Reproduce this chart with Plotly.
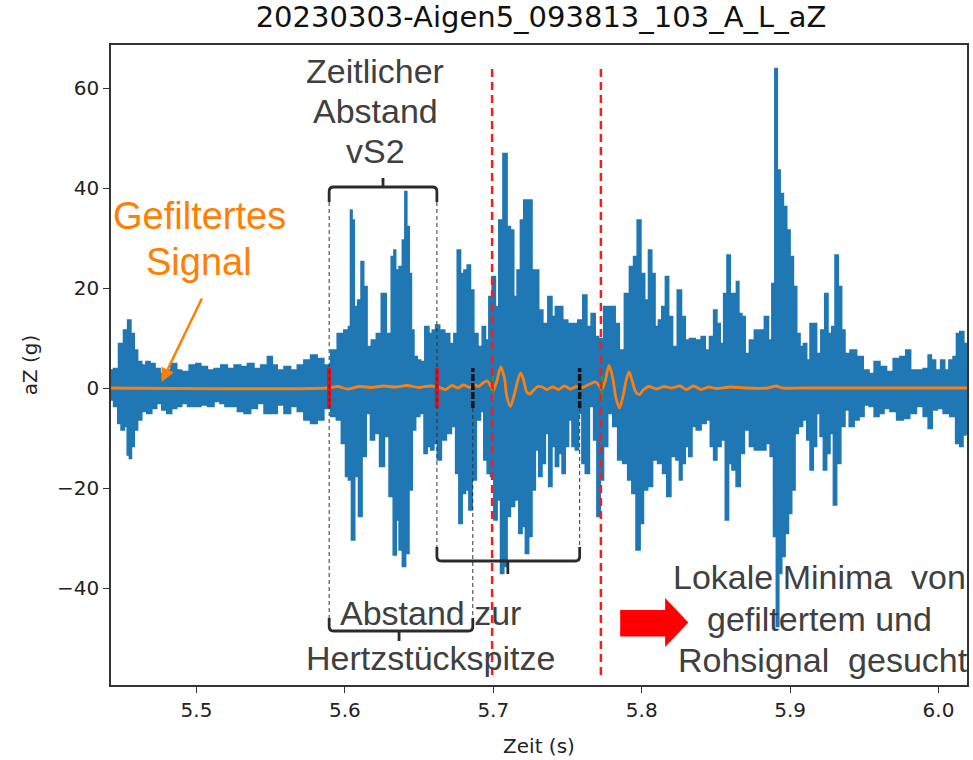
import plotly.graph_objects as go

# Raw acceleration signal aZ (g): upper and lower envelope of the dense oscillation
raw_upper_t = [
    5.4424, 5.4458, 5.4491, 5.4525, 5.4547, 5.4570, 5.4592, 5.4615, 5.4648, 5.4671,
    5.4704, 5.4738, 5.4772, 5.4805, 5.4850, 5.4884, 5.4917, 5.4984, 5.5007, 5.5052,
    5.5096, 5.5141, 5.5186, 5.5231, 5.5276, 5.5321, 5.5365, 5.5410, 5.5455, 5.5500,
    5.5522, 5.5567, 5.5612, 5.5657, 5.5701, 5.5746, 5.5791, 5.5836, 5.5881, 5.5926,
    5.5970, 5.6015, 5.6033, 5.6042, 5.6055, 5.6071, 5.6101, 5.6116, 5.6138, 5.6161,
    5.6195, 5.6228, 5.6262, 5.6295, 5.6329, 5.6331, 5.6354, 5.6376, 5.6398, 5.6410,
    5.6425, 5.6443, 5.6454, 5.6477, 5.6499, 5.6522, 5.6555, 5.6578, 5.6600, 5.6622,
    5.6656, 5.6690, 5.6723, 5.6746, 5.6768, 5.6791, 5.6813, 5.6835, 5.6858, 5.6880,
    5.6914, 5.6936, 5.6959, 5.6981, 5.7003, 5.7026, 5.7048, 5.7082, 5.7104, 5.7127,
    5.7149, 5.7171, 5.7194, 5.7216, 5.7250, 5.7272, 5.7295, 5.7317, 5.7351, 5.7384,
    5.7407, 5.7429, 5.7452, 5.7485, 5.7519, 5.7552, 5.7586, 5.7620, 5.7642, 5.7676,
    5.7698, 5.7721, 5.7766, 5.7810, 5.7833, 5.7866, 5.7900, 5.7934, 5.7956, 5.7983,
    5.8007, 5.8034, 5.8057, 5.8079, 5.8101, 5.8124, 5.8146, 5.8173, 5.8191, 5.8225,
    5.8254, 5.8283, 5.8305, 5.8339, 5.8384, 5.8417, 5.8440, 5.8473, 5.8496, 5.8518,
    5.8541, 5.8563, 5.8586, 5.8608, 5.8630, 5.8646, 5.8664, 5.8686, 5.8709, 5.8742,
    5.8776, 5.8810, 5.8843, 5.8866, 5.8888, 5.8906, 5.8922, 5.8944, 5.8966, 5.8989,
    5.9011, 5.9034, 5.9056, 5.9078, 5.9101, 5.9123, 5.9145, 5.9168, 5.9190, 5.9224,
    5.9242, 5.9269, 5.9291, 5.9314, 5.9336, 5.9359, 5.9381, 5.9426, 5.9471, 5.9515,
    5.9549, 5.9583, 5.9628, 5.9672, 5.9717, 5.9762, 5.9796, 5.9829, 5.9874, 5.9919,
    5.9941, 5.9964, 5.9997, 6.0031, 6.0053, 6.0087, 6.0109, 6.0132, 6.0154, 6.0188,
]
raw_upper_aZ = [
    3.6, 3.9, 8.9, 11.6, 13.6, 10.9, 7.6, 5.3, 4.6, 5.3,
    4.9, 3.9, 2.9, 3.6, 4.9, 3.6, 3.3, 4.6, 4.9, 4.3,
    3.6, 3.9, 4.6, 3.9, 4.6, 4.3, 4.9, 3.9, 4.6, 6.3,
    4.6, 3.6, 4.3, 3.6, 4.6, 5.6, 6.6, 5.9, 4.6, 7.6,
    10.9, 11.6, 12.3, 35.6, 33.6, 16.3, 17.6, 25.3, 20.3, 8.3,
    9.6, 10.9, 18.9, 10.9, 26.3, 27.6, 23.6, 24.3, 29.6, 39.3,
    32.3, 22.9, 11.6, 6.3, 5.6, 5.3, 12.3, 10.9, 11.6, 12.6,
    11.6, 10.9, 8.9, 10.9, 27.6, 22.9, 23.6, 24.6, 19.6, 10.9,
    8.3, 12.3, 9.6, 18.3, 22.3, 16.3, 33.6, 46.9, 32.3, 31.6,
    18.3, 23.6, 33.6, 37.6, 37.6, 23.6, 23.6, 15.6, 12.9, 18.3,
    14.3, 16.3, 16.3, 13.6, 12.9, 12.9, 13.6, 18.6, 12.3, 14.9,
    10.3, 9.9, 16.3, 16.3, 12.9, 7.6, 18.9, 24.3, 26.3, 33.6,
    22.9, 17.6, 27.6, 22.9, 12.3, 13.6, 16.3, 22.3, 14.3, 8.3,
    19.6, 14.3, 9.6, 9.9, 9.6, 10.3, 7.6, 10.3, 15.6, 12.9,
    8.9, 18.9, 26.6, 18.9, 18.9, 21.3, 14.9, 14.3, 6.9, 9.6,
    11.6, 11.6, 14.3, 9.6, 20.9, 63.9, 43.6, 38.9, 36.3, 31.6,
    26.3, 20.3, 10.9, 8.3, 8.9, 5.6, 12.9, 12.9, 6.9, 11.6,
    18.9, 10.9, 12.3, 26.6, 20.3, 11.6, 6.9, 7.6, 6.3, 3.6,
    2.9, 5.3, 4.3, 3.3, 5.9, 6.3, 7.6, 3.6, 3.6, 3.9,
    6.6, 5.6, 3.6, 5.6, 3.6, 5.6, 6.3, 10.9, 11.3, 8.9,
]
raw_lower_t = [
    5.4424, 5.4458, 5.4480, 5.4503, 5.4525, 5.4541, 5.4554, 5.4570, 5.4592, 5.4615,
    5.4648, 5.4682, 5.4716, 5.4749, 5.4783, 5.4816, 5.4850, 5.4884, 5.4917, 5.4962,
    5.5007, 5.5052, 5.5096, 5.5141, 5.5175, 5.5208, 5.5253, 5.5298, 5.5343, 5.5388,
    5.5433, 5.5477, 5.5522, 5.5567, 5.5612, 5.5657, 5.5701, 5.5746, 5.5791, 5.5836,
    5.5881, 5.5926, 5.5959, 5.5993, 5.6015, 5.6033, 5.6055, 5.6078, 5.6105, 5.6127,
    5.6161, 5.6183, 5.6217, 5.6250, 5.6284, 5.6311, 5.6340, 5.6354, 5.6376, 5.6398,
    5.6421, 5.6443, 5.6466, 5.6488, 5.6522, 5.6544, 5.6566, 5.6589, 5.6611, 5.6634,
    5.6667, 5.6701, 5.6735, 5.6757, 5.6779, 5.6802, 5.6824, 5.6847, 5.6869, 5.6903,
    5.6925, 5.6947, 5.6970, 5.6992, 5.7015, 5.7037, 5.7060, 5.7082, 5.7104, 5.7127,
    5.7160, 5.7183, 5.7205, 5.7227, 5.7250, 5.7272, 5.7295, 5.7317, 5.7340, 5.7362,
    5.7384, 5.7407, 5.7429, 5.7452, 5.7474, 5.7496, 5.7519, 5.7541, 5.7564, 5.7586,
    5.7608, 5.7631, 5.7665, 5.7687, 5.7709, 5.7732, 5.7754, 5.7788, 5.7821, 5.7855,
    5.7889, 5.7922, 5.7945, 5.7978, 5.8001, 5.8023, 5.8057, 5.8090, 5.8124, 5.8157,
    5.8180, 5.8214, 5.8247, 5.8261, 5.8283, 5.8305, 5.8328, 5.8350, 5.8384, 5.8417,
    5.8451, 5.8473, 5.8496, 5.8518, 5.8552, 5.8574, 5.8597, 5.8619, 5.8653, 5.8675,
    5.8709, 5.8742, 5.8776, 5.8821, 5.8854, 5.8877, 5.8899, 5.8915, 5.8933, 5.8955,
    5.8978, 5.9000, 5.9022, 5.9045, 5.9067, 5.9101, 5.9123, 5.9145, 5.9168, 5.9190,
    5.9213, 5.9235, 5.9258, 5.9280, 5.9303, 5.9325, 5.9359, 5.9381, 5.9415, 5.9448,
    5.9482, 5.9515, 5.9549, 5.9583, 5.9616, 5.9650, 5.9695, 5.9740, 5.9784, 5.9829,
    5.9874, 5.9919, 5.9941, 5.9975, 6.0009, 6.0053, 6.0098, 6.0132, 6.0154, 6.0177,
    6.0192,
]
raw_lower_aZ = [
    -2.4, -3.7, -7.1, -8.4, -7.7, -13.4, -14.1, -11.7, -8.4, -6.4,
    -4.7, -5.1, -4.1, -3.1, -4.4, -5.1, -4.1, -3.7, -3.1, -3.7,
    -3.7, -3.4, -3.7, -2.7, -3.1, -3.7, -3.7, -4.7, -5.1, -4.1,
    -3.1, -5.1, -5.1, -3.4, -5.1, -3.7, -4.7, -6.4, -7.1, -6.4,
    -4.1, -5.7, -6.4, -11.1, -17.7, -18.4, -30.4, -17.7, -25.7, -13.7,
    -5.1, -10.4, -9.1, -15.7, -9.7, -21.7, -33.4, -26.4, -32.4, -35.7,
    -33.1, -20.4, -8.4, -5.7, -5.1, -13.1, -11.7, -12.4, -11.1, -14.4,
    -10.4, -9.1, -7.7, -17.1, -27.1, -21.1, -20.4, -24.4, -18.4, -6.4,
    -4.7, -14.4, -17.1, -17.7, -26.4, -22.4, -37.1, -35.7, -25.7, -23.7,
    -22.4, -29.1, -27.7, -33.1, -29.7, -20.4, -12.4, -17.7, -15.1, -9.1,
    -19.7, -11.7, -15.7, -13.1, -17.1, -11.7, -6.4, -11.7, -12.4, -5.1,
    -15.1, -17.1, -3.7, -10.4, -25.7, -18.4, -11.7, -5.1, -7.7, -14.4,
    -15.1, -18.4, -21.1, -32.4, -27.1, -20.4, -19.7, -14.4, -15.1, -17.1,
    -21.7, -13.7, -14.4, -18.4, -15.1, -11.7, -13.7, -7.7, -8.4, -7.1,
    -6.4, -11.7, -14.4, -11.7, -10.4, -26.4, -15.1, -16.4, -19.7, -13.1,
    -8.4, -11.7, -12.4, -12.4, -11.1, -13.7, -29.7, -47.7, -37.1, -33.7,
    -29.1, -25.1, -20.4, -9.1, -7.7, -6.4, -10.4, -16.4, -11.7, -5.1,
    -9.7, -16.4, -13.1, -9.1, -23.4, -15.1, -7.7, -4.4, -7.7, -6.4,
    -5.7, -3.4, -3.7, -5.7, -5.1, -4.1, -4.7, -6.4, -6.1, -5.1,
    -3.7, -5.7, -8.1, -4.4, -4.1, -5.1, -5.7, -11.1, -11.7, -9.4,
    -9.1,
]

# Low-pass filtered signal
filt_t = [
    5.4424, 5.5880, 5.5950, 5.6020, 5.6100, 5.6180, 5.6260, 5.6340, 5.6420, 5.6500,
    5.6580, 5.6640, 5.6680, 5.6720, 5.6760, 5.6800, 5.6840, 5.6870, 5.6900, 5.6930,
    5.6960, 5.6980, 5.7000, 5.7025, 5.7050, 5.7075, 5.7090, 5.7115, 5.7140, 5.7165,
    5.7185, 5.7205, 5.7225, 5.7245, 5.7270, 5.7300, 5.7330, 5.7360, 5.7400, 5.7440,
    5.7480, 5.7520, 5.7560, 5.7600, 5.7630, 5.7660, 5.7690, 5.7710, 5.7730, 5.7755,
    5.7780, 5.7805, 5.7825, 5.7850, 5.7875, 5.7895, 5.7915, 5.7935, 5.7960, 5.7985,
    5.8010, 5.8050, 5.8100, 5.8150, 5.8200, 5.8260, 5.8300, 5.8350, 5.8400, 5.8450,
    5.8500, 5.8600, 5.8700, 5.8850, 5.8905, 5.8950, 5.9100, 6.0192,
]
filt_aZ = [
    0.0, 0.0, 0.3, -0.2, 0.3, 0.1, 0.4, 0.2, 0.5, 0.1,
    0.4, 0.1, -0.3, 0.5, 0.0, 0.6, 0.1, 0.7, 0.3, 1.0,
    1.4, 0.5, -0.5, 1.5, 4.2, 2.0, -1.5, -3.7, -1.5, 1.5,
    3.0, 1.5, -0.8, -1.2, -0.5, 0.3, 0.2, -0.3, 0.2, -0.3,
    0.4, -0.2, 0.3, 0.1, 0.5, 0.9, 1.2, 0.6, -0.4, 1.5,
    4.5, 2.0, -1.8, -4.0, -1.5, 1.5, 3.2, 1.5, -0.8, -1.3,
    -0.4, 0.3, -0.2, 0.3, 0.0, 0.4, -0.3, 0.4, -0.3, 0.2,
    -0.1, 0.2, 0.0, 0.0, 0.4, 0.0, 0.0, 0.0,
]

# Event times (s)
vs2_marks = [5.5894, 5.6620]        # start / end of the vS2 interval
tip_marks = [5.6862, 5.7582]        # Hertzstückspitze references
search_lines = [5.6992, 5.7725]     # start of the local minimum search

x_range = [5.4424, 6.0192]
y_range = [-59.4, 68.6]
x_ticks = [5.5, 5.6, 5.7, 5.8, 5.9, 6.0]
y_ticks = [-40, -20, 0, 20, 40, 60]

BLUE = "#1f77b4"
ORANGE = "#ff7f0e"
TEXT = "#404040"
NOTE_FONT = "Liberation Sans, Arial, sans-serif"
AXIS_FONT = dict(family="DejaVu Sans", size=20, color="#222222")

fig = go.Figure()

# raw signal as a filled band between its envelopes
fig.add_trace(go.Scatter(
    x=raw_upper_t + raw_lower_t[::-1],
    y=raw_upper_aZ + raw_lower_aZ[::-1],
    mode="lines", fill="toself", fillcolor=BLUE,
    line=dict(color=BLUE, width=1.5, shape="hvh"),
    hoverinfo="skip", showlegend=False,
))

# filtered signal
fig.add_trace(go.Scatter(
    x=filt_t, y=filt_aZ, mode="lines",
    line=dict(color=ORANGE, width=2.8, shape="spline", smoothing=0.8),
    hoverinfo="skip", showlegend=False,
))

shapes = []

# event markers on the signal
for t in vs2_marks:
    shapes.append(dict(type="line", x0=t, x1=t, y0=-4, y1=4,
                       line=dict(color="#e8101a", width=4)))
for t in tip_marks:
    shapes.append(dict(type="line", x0=t, x1=t, y0=-4, y1=4,
                       line=dict(color="#111111", width=3.5, dash="7px,2px")))
for t in search_lines:
    shapes.append(dict(type="line", x0=t + 0.0006, x1=t + 0.0006, y0=-2.5, y1=2.5,
                       line=dict(color="#2ca02c", width=2)))
    shapes.append(dict(type="line", x0=t, x1=t, y0=-57.4, y1=64.0,
                       line=dict(color="#ff1a1a", width=2.5, dash="8px,5px")))

# thin dashed guides down/up to the brackets
guide = dict(color="#333333", width=1, dash="4px,3px")
shapes += [
    dict(type="line", x0=vs2_marks[0], x1=vs2_marks[0], y0=37.2, y1=-46.0, line=guide),
    dict(type="line", x0=vs2_marks[1], x1=vs2_marks[1], y0=37.2, y1=-31.8, line=guide),
    dict(type="line", x0=tip_marks[0], x1=tip_marks[0], y0=-4.0, y1=-46.0, line=guide),
    dict(type="line", x0=tip_marks[1], x1=tip_marks[1], y0=-4.0, y1=-31.8, line=guide),
]


def bracket(x0, x1, y, hook, xm, tick):
    """Square bracket with rounded corners and a centre tick."""
    rx = 0.003
    ry = 0.9 if hook > 0 else -0.9
    path = (f"M {x0},{y - hook} L {x0},{y - ry} Q {x0},{y} {x0 + rx},{y} "
            f"L {x1 - rx},{y} Q {x1},{y} {x1},{y - ry} L {x1},{y - hook} "
            f"M {xm},{y} L {xm},{y + tick}")
    return dict(type="path", path=path, line=dict(color="#2b2b2b", width=2.8))


shapes.append(bracket(vs2_marks[0], vs2_marks[1], 40.2, 3.0, 5.6257, 1.8))
shapes.append(bracket(vs2_marks[0], tip_marks[0], -48.6, -2.6, 5.6365, -2.0))
shapes.append(bracket(vs2_marks[1], tip_marks[1], -34.6, -2.8, 5.7098, -2.6))

# red block arrow
shapes.append(dict(
    type="path",
    path=("M 5.7855,-44.4 L 5.8158,-44.4 L 5.8158,-42.0 L 5.8314,-46.9 "
          "L 5.8158,-51.8 L 5.8158,-49.7 L 5.7855,-49.7 Z"),
    fillcolor="#ff0000", line=dict(color="#ff0000", width=0),
))

annotations = []


def note(text, x, y, color=TEXT, size=34):
    annotations.append(dict(text=text, x=x, y=y, xref="x", yref="y",
                            showarrow=False, xanchor="center", yanchor="middle",
                            font=dict(family=NOTE_FONT, size=size, color=color)))


note("Zeitlicher", 5.6203, 63.4)
note("Abstand", 5.6203, 55.4)
note("vS2", 5.6203, 47.4)
note("Gefiltertes", 5.5020, 34.4, color="#ff8000", size=38)
note("Signal", 5.5020, 25.2, color="#ff8000", size=38)
note("Abstand zur", 5.6580, -45.0)
note("Hertzstückspitze", 5.6580, -54.0)
note("Lokale Minima  von", 5.9195, -37.8)
note("gefiltertem und", 5.9195, -46.2)
note("Rohsignal  gesucht", 5.9222, -54.4)

# orange pointer to the filtered line
annotations.append(dict(x=5.4765, y=1.2, xref="x", yref="y", ax=41, ay=-85,
                        showarrow=True, arrowhead=2, arrowsize=1.1, arrowwidth=2.5,
                        arrowcolor="#ff8000", text=""))

fig.update_layout(
    width=973, height=760,
    margin=dict(l=111, r=4, t=45, b=75),
    paper_bgcolor="white", plot_bgcolor="white",
    title=dict(text="20230303-Aigen5_093813_103_A_L_aZ", x=0.556, xanchor="center",
               y=0.978, yanchor="middle",
               font=dict(family="DejaVu Sans", size=29, color="#111111")),
    shapes=shapes, annotations=annotations,
    showlegend=False,
)
fig.update_xaxes(
    range=x_range, tickvals=x_ticks, ticktext=[f"{v:.1f}" for v in x_ticks],
    showgrid=False, zeroline=False, showline=True, linecolor="#333333", linewidth=1.5,
    mirror=True, ticks="outside", ticklen=6, tickcolor="#333333",
    tickfont=AXIS_FONT,
    title=dict(text="Zeit (s)", font=AXIS_FONT, standoff=18),
)
fig.update_yaxes(
    range=y_range, tickvals=y_ticks, ticktext=[str(v).replace("-", "\u2212") for v in y_ticks],
    showgrid=False, zeroline=False, showline=True, linecolor="#333333", linewidth=1.5,
    mirror=True, ticks="outside", ticklen=6, tickcolor="#333333",
    tickfont=AXIS_FONT,
    title=dict(text="aZ (g)", font=AXIS_FONT, standoff=14),
)

fig.write_html("out.html")
